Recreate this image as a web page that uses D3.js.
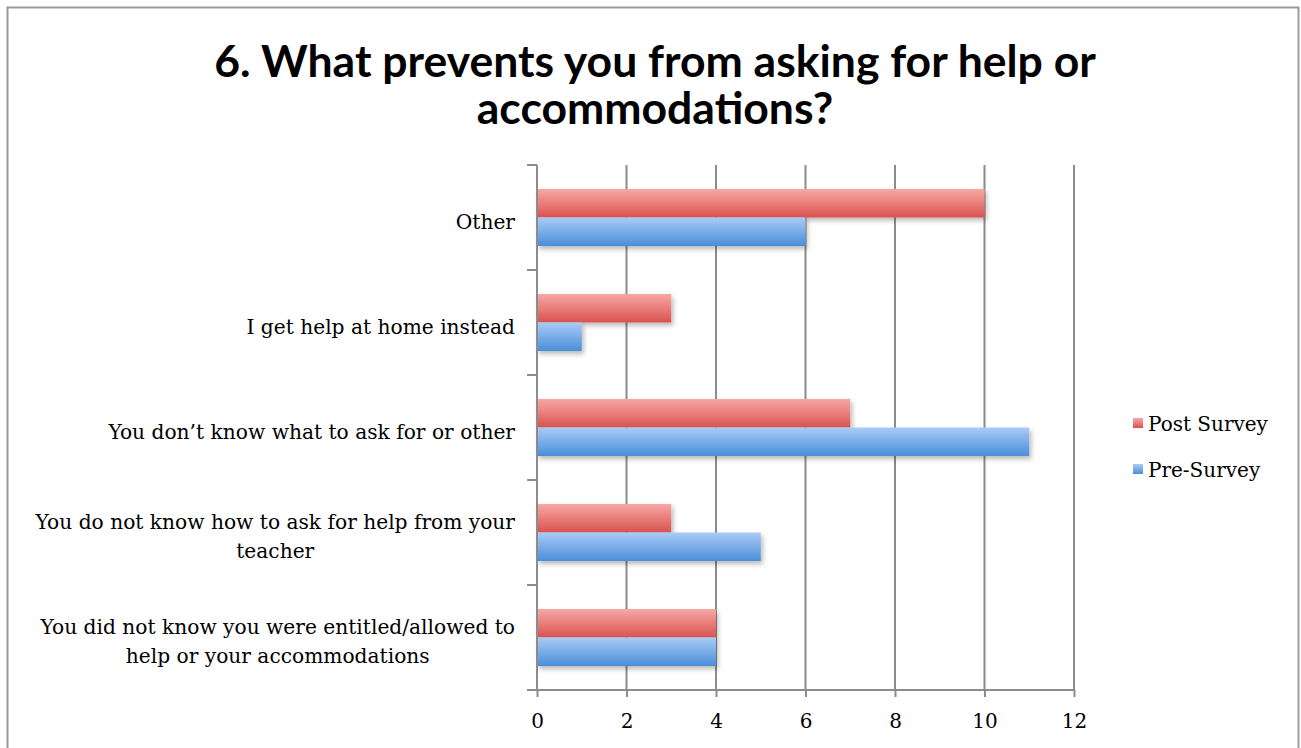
<!DOCTYPE html>
<html>
<head>
<meta charset="utf-8">
<script src="https://cdn.jsdelivr.net/npm/d3@7"></script>
<style>
  html, body { margin: 0; padding: 0; background: #fff; }
  svg { display: block; }
</style>
</head>
<body>
<svg id="chart" width="1301" height="748"></svg>
<script>
// Survey question categories (top to bottom)
const categories = [
  "Other",
  "I get help at home instead",
  "You don\u2019t know what to ask for or other",
  "You do not know how to ask for help from your teacher",
  "You did not know you were entitled/allowed to help or your accommodations"
];
// Wrapped label lines per category
const labelLines = [
  ["Other"],
  ["I get help at home instead"],
  ["You don\u2019t know what to ask for or other"],
  ["You do not know how to ask for help from your", "teacher"],
  ["You did not know you were entitled/allowed to", "help or your accommodations"]
];
const seriesNames = ["Post Survey", "Pre-Survey"];
const postSurvey = [10, 3, 7, 3, 4];
const preSurvey = [6, 1, 11, 5, 4];
const xTicks = [0, 2, 4, 6, 8, 10, 12];

const svg = d3.select("#chart");
const W = 1301, H = 748;

// Frame around the chart
svg.append("rect").attr("x", 7.5).attr("y", 7.5).attr("width", 1291).attr("height", 760)
  .attr("fill", "#fff").attr("stroke", "#9a9a9a").attr("stroke-width", 2);
svg.append("line").attr("x1", 1299.5).attr("x2", 1299.5).attr("y1", 8).attr("y2", H)
  .attr("stroke", "#d0d0d0").attr("stroke-width", 1);

// Title
const title = svg.append("text")
  .attr("text-anchor", "middle")
  .attr("font-family", "Lato, 'Open Sans', sans-serif")
  .attr("font-weight", "bold")
  .attr("font-size", 44.5)
  .attr("fill", "#000");
title.append("tspan").attr("x", 655).attr("y", 77).text("6. What prevents you from asking for help or");
title.append("tspan").attr("x", 655).attr("y", 124).text("accommodations?");

// Gradients
const defs = svg.append("defs");
const grads = [
  { id: "gPost", top: "#f7a8a5", bottom: "#d9534f" },
  { id: "gPre", top: "#a9cbf6", bottom: "#4a8ed8" }
];
grads.forEach(g => {
  const lg = defs.append("linearGradient").attr("id", g.id)
    .attr("x1", 0).attr("y1", 0).attr("x2", 0).attr("y2", 1);
  lg.append("stop").attr("offset", "0%").attr("stop-color", g.top);
  lg.append("stop").attr("offset", "100%").attr("stop-color", g.bottom);
});
const f = defs.append("filter").attr("id", "shadow")
  .attr("x", "-5%").attr("y", "-20%").attr("width", "115%").attr("height", "160%");
f.append("feDropShadow").attr("dx", 2).attr("dy", 3).attr("stdDeviation", 2.5)
  .attr("flood-color", "#000").attr("flood-opacity", 0.28);

// Scales
const plot = { left: 537, right: 1074, top: 165, bottom: 690 };
const x = d3.scaleLinear().domain([0, 12]).range([plot.left, plot.right]);
const y = d3.scaleBand().domain(categories).range([plot.top, plot.bottom]).paddingInner(0).paddingOuter(0);
const bandPad = 24;
const ySub = d3.scaleBand().domain(seriesNames)
  .range([bandPad, y.bandwidth() - bandPad]);

// Vertical gridlines
svg.append("g").selectAll("line").data(xTicks.slice(1)).join("line")
  .attr("x1", d => x(d)).attr("x2", d => x(d))
  .attr("y1", plot.top).attr("y2", plot.bottom)
  .attr("stroke", "#8c8c8c").attr("stroke-width", 2);

// Bars
const rows = categories.map((c, i) => ({ cat: c, values: [postSurvey[i], preSurvey[i]] }));
const barG = svg.append("g");
rows.forEach(r => {
  r.values.forEach((v, j) => {
    barG.append("rect")
      .attr("x", x(0))
      .attr("y", y(r.cat) + ySub(seriesNames[j]))
      .attr("width", x(v) - x(0))
      .attr("height", ySub.bandwidth())
      .attr("fill", j === 0 ? "url(#gPost)" : "url(#gPre)")
      .attr("filter", "url(#shadow)");
  });
});

// X axis
const xAxis = d3.axisBottom(x).tickValues(xTicks).tickSize(7).tickPadding(17);
const gx = svg.append("g").attr("transform", `translate(0,${plot.bottom})`).call(xAxis);
gx.select(".domain").attr("stroke", "#8c8c8c").attr("stroke-width", 2)
  .attr("d", `M${plot.left - 10},0H${plot.right}`);
gx.selectAll(".tick line").attr("stroke", "#8c8c8c").attr("stroke-width", 2);
gx.selectAll(".tick text")
  .attr("font-family", "'DejaVu Serif', serif").attr("font-size", 20).attr("fill", "#000");

// Y axis
const yAxis = d3.axisLeft(y).tickSize(0).tickFormat("");
const gy = svg.append("g").attr("transform", `translate(${plot.left},0)`).call(yAxis);
gy.select(".domain").attr("stroke", "#8c8c8c").attr("stroke-width", 2)
  .attr("d", `M0,${plot.top}V${plot.bottom}`);
// Band boundary ticks
gy.append("g").selectAll("line")
  .data(categories.map(c => y(c)).concat([plot.bottom]))
  .join("line")
  .attr("x1", -10).attr("x2", 0).attr("y1", d => d).attr("y2", d => d)
  .attr("stroke", "#8c8c8c").attr("stroke-width", 2);

// Category labels: block right-aligned, lines centered within it
const labelRight = 515;
const lblG = svg.append("g")
  .attr("font-family", "'DejaVu Serif', serif").attr("font-size", 20.2).attr("fill", "#000");
categories.forEach((c, i) => {
  const lines = labelLines[i];
  const cy = y(c) + y.bandwidth() / 2;
  const lh = 29;
  const t = lblG.append("text").attr("text-anchor", "middle");
  const spans = lines.map((ln, k) => t.append("tspan")
    .attr("y", cy + (k - (lines.length - 1) / 2) * lh + 11)
    .text(ln));
  const widths = spans.map(s => s.node().getComputedTextLength());
  const maxW = Math.max(...widths);
  spans.forEach(s => s.attr("x", labelRight - maxW / 2));
});

// Legend
const lg = svg.append("g").attr("font-family", "'DejaVu Serif', serif").attr("font-size", 20);
seriesNames.forEach((s, i) => {
  const ly = 423 + i * 46;
  lg.append("rect").attr("x", 1133).attr("y", ly - 5).attr("width", 10).attr("height", 10)
    .attr("fill", i === 0 ? "url(#gPost)" : "url(#gPre)");
  lg.append("text").attr("x", 1148).attr("y", ly + 8).text(s);
});
</script>
</body>
</html>
